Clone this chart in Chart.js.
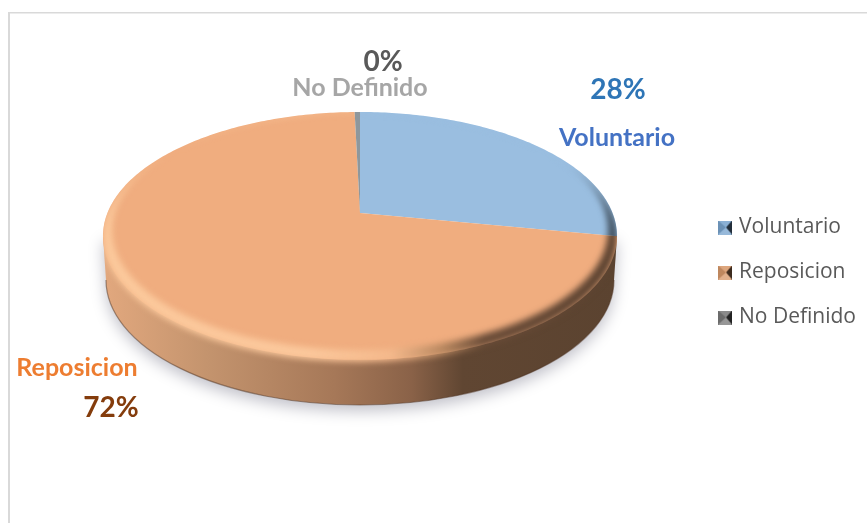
<!DOCTYPE html>
<html><head><meta charset="utf-8">
<style>html,body{margin:0;padding:0;background:#fff}canvas{display:block}</style>
<script src="https://cdn.jsdelivr.net/npm/chart.js@4"></script>
</head><body><canvas id="c" width="867" height="523"></canvas>
<script>
const categories = ["Voluntario", "Reposicion", "No Definido"];
const values = [28, 71.6, 0.4];
const sliceColors = ["#9ABEE0", "#F0AD7F", "#8E979C"];
const labelColors = ["#4472C4", "#ED7D31", "#A6A6A6"];
const percentColors = ["#2E75B6", "#843C0C", "#595959"];

// perspective of the pie's top face
const P = {cx:360, ay:213, R:252.6, b:119.7, k:0.185, ey:236, rx:257, ry:124, depth:44};
// text anchors: [name x, name y, percent x, percent y]
const labelPos = [[617,138,618,90],[77,368,111,408],[360,88,383,62]];

function project(a, s){
  const u=Math.cos(a)*s, v=Math.sin(a)*s, w=1-P.k*Math.sin(a);
  return [P.cx+P.R*u/w, P.ay+P.b*v/w];
}
function wedge(ctx,a0,a1,s){
  ctx.beginPath();
  ctx.moveTo(P.cx,P.ay);
  const n=Math.max(2,Math.ceil((a1-a0)*60));
  for(let i=0;i<=n;i++){const p=project(a0+(a1-a0)*i/n,s);ctx.lineTo(p[0],p[1]);}
  ctx.closePath();
}
function hull(ctx){
  ctx.moveTo(P.cx-P.rx,P.ey);
  ctx.lineTo(P.cx-P.rx+3,P.ey+P.depth);
  ctx.ellipse(P.cx,P.ey+P.depth,P.rx-3,P.ry+1,0,Math.PI,0,true);
  ctx.lineTo(P.cx+P.rx,P.ey);
  ctx.closePath();
}
function hgrad(ctx,stops){
  const g=ctx.createLinearGradient(P.cx-P.rx,0,P.cx+P.rx,0);
  stops.forEach(s=>g.addColorStop(s[0],s[1]));
  return g;
}
function marker(color){
  const c=document.createElement('canvas');c.width=14;c.height=14;
  const x=c.getContext('2d');
  const tri=(pts,fill)=>{x.beginPath();pts.forEach((p,i)=>i?x.lineTo(p[0],p[1]):x.moveTo(p[0],p[1]));x.closePath();x.fillStyle=fill;x.fill();};
  x.fillStyle=color;x.fillRect(0,0,14,14);
  tri([[0,0],[14,0],[8,7]],'rgba(255,255,255,.12)');
  tri([[0,0],[0,14],[8,7]],'rgba(0,0,0,.12)');
  tri([[14,0],[14,14],[8,7]],'rgba(0,0,0,.72)');
  tri([[0,14],[14,14],[8,7]],'rgba(255,255,255,.22)');
  return c;
}
const legendColors=["#7AA6D0","#D99A6C","#7A7A7A"];

const pie3d={
  id:'pie3d',
  beforeDraw(chart){
    const c=chart.ctx;
    c.save();c.fillStyle='#fff';c.fillRect(0,0,867,523);
    c.fillStyle='#D9D9D9';c.fillRect(8,12,859,1.5);c.fillRect(8,12,2,511);
    c.restore();
  },
  beforeDatasetsDraw(chart){
    const c=chart.ctx, arcs=chart.getDatasetMeta(0).data;
    // side wall with soft shadow
    c.save();
    c.shadowColor='rgba(70,70,95,.34)';c.shadowBlur=15;c.shadowOffsetY=6;
    c.beginPath();hull(c);
    c.fillStyle=hgrad(c,[[0,'#E2A87E'],[.2,'#C4946E'],[.45,'#A67858'],[.6,'#8A6248'],[.7,'#604632'],[1,'#5B4330']]);
    c.fill();
    c.restore();
    c.save();
    c.beginPath();c.ellipse(P.cx,P.ey+P.depth,P.rx-3,P.ry+1,0,Math.PI,0,true);
    c.strokeStyle='rgba(80,52,34,.5)';c.lineWidth=1.2;c.stroke();
    c.restore();
    // top-face slices
    arcs.forEach((el,i)=>{
      c.save();
      wedge(c,el.startAngle,el.endAngle,1);
      c.fillStyle=sliceColors[i];c.fill();
      c.restore();
    });
    // bevelled rim
    const rim=[
      [[0,'#9ABEE0'],[.9,'#9ABEE0'],[.96,'#5F7689'],[1,'#36424E']],
      [[0,'#FBC99C'],[.4,'#FBC89C'],[.56,'#F4B98C'],[.66,'#B98860'],[.74,'#6A4C38'],[1,'#5C4331']],
      null];
    arcs.forEach((el,i)=>{
      if(!rim[i])return;
      c.save();
      c.beginPath();hull(c);
      c.moveTo(P.cx+P.rx,P.ey);
      c.ellipse(P.cx,P.ey,P.rx,P.ry,0,0,-Math.PI*2,true);
      c.clip('nonzero');
      wedge(c,el.startAngle,el.endAngle,1.12);c.clip();
      c.filter='blur(3px)';
      c.beginPath();
      c.moveTo(P.cx+P.rx,P.ey+1);
      c.ellipse(P.cx,P.ey+1,P.rx,P.ry+1,0,0,Math.PI*2);
      c.moveTo(P.cx+P.rx-9,P.ey-6);
      c.ellipse(P.cx,P.ey-6,P.rx-9,P.ry-4,0,0,Math.PI*2);
      c.fillStyle=hgrad(c,rim[i]);
      c.fill('evenodd');
      c.restore();
    });
    return false;
  },
  afterDraw(chart){
    const c=chart.ctx, total=values.reduce((a,b)=>a+b,0);
    c.save();
    c.textAlign='center';c.textBaseline='middle';
    categories.forEach((name,i)=>{
      const p=labelPos[i];
      c.font='bold 25px Lato';c.fillStyle=labelColors[i];
      c.fillText(name,p[0],p[1]);
      c.font='bold 28px Lato';c.fillStyle=percentColors[i];
      c.fillText(Math.round(values[i]/total*100)+'%',p[2],p[3]);
    });
    c.restore();
  }
};

new Chart(document.getElementById('c'),{
  type:'pie',
  data:{labels:categories,datasets:[{data:values,backgroundColor:sliceColors,borderWidth:0}]},
  plugins:[pie3d],
  options:{
    responsive:false,animation:false,events:[],
    layout:{padding:{top:22,right:1}},
    plugins:{
      tooltip:{enabled:false},
      legend:{
        position:'right',
        labels:{
          usePointStyle:true,boxWidth:7,boxHeight:14,padding:24,
          color:'#595959',font:{family:'Open Sans',size:21},
          generateLabels(){
            return categories.map((t,i)=>({text:t,fontColor:'#595959',pointStyle:marker(legendColors[i]),lineWidth:0,hidden:false,index:i}));
          }
        }
      }
    }
  }
});
</script></body></html>
